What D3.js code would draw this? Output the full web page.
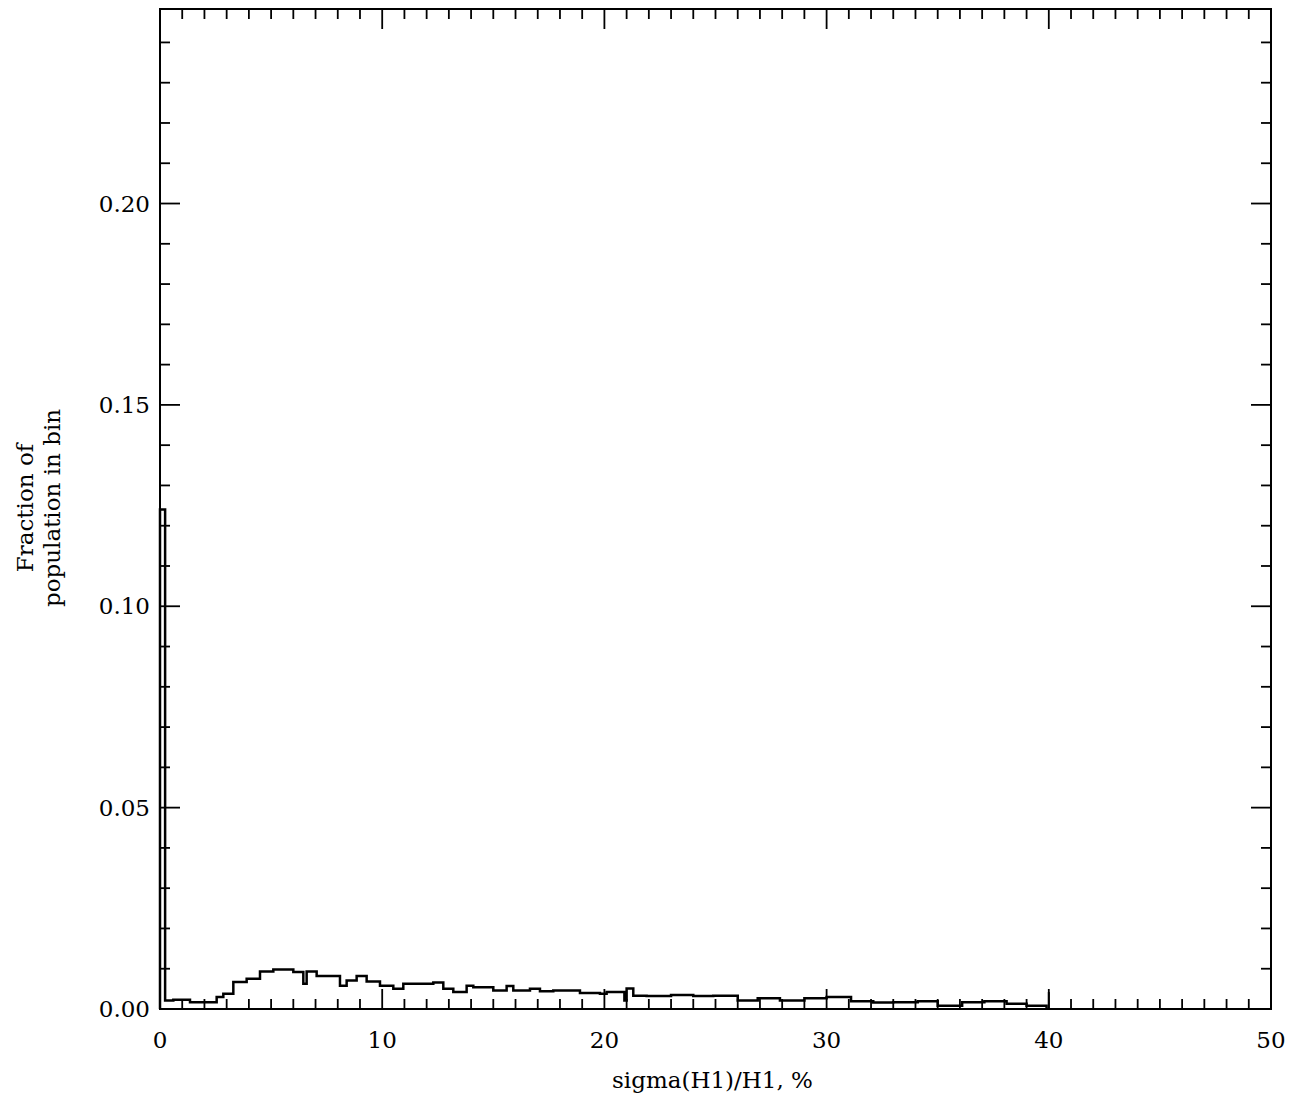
<!DOCTYPE html>
<html>
<head>
<meta charset="utf-8">
<script src="https://cdn.jsdelivr.net/npm/d3@7"></script>
<style>
  body { margin: 0; background: #fff; }
  text { font-family: "DejaVu Serif", serif; font-size: 23px; fill: #000; }
</style>
</head>
<body>
<script>
// histogram: start, end, value
let segStart = [0, 0.23, 0.6, 1.35, 2.55, 2.85, 3.3, 3.9, 4.5, 5.1, 6.0, 6.45, 6.6, 7.05, 8.1, 8.4, 8.85, 9.3, 9.9,
                10.5, 10.95, 12.3, 12.75, 13.2, 13.8, 14.1, 15.0, 15.6, 15.9, 16.65, 17.1, 17.7, 18.9,
                19.8, 20.1, 20.9, 21.0, 21.3, 21.9, 23.0, 24.0, 24.9, 26.0, 26.9, 27.9, 29.0, 30.0, 31.1,
                32.1, 33.0, 34.1, 35.0, 36.1, 37.1, 38.1, 39.0];
let segEnd = segStart.slice(1).concat([39.9]);
let segValue = [0.124, 0.0021, 0.0023, 0.0017, 0.0030, 0.0038, 0.0067, 0.0075, 0.0093, 0.0098, 0.0092, 0.0063, 0.0093, 0.0082, 0.0058, 0.0071, 0.0082, 0.0068, 0.0058,
                0.0050, 0.0063, 0.0066, 0.0050, 0.0042, 0.0058, 0.0054, 0.0046, 0.0057, 0.0046, 0.0050, 0.0044, 0.0046, 0.0040,
                0.0038, 0.0042, 0.0021, 0.0051, 0.0033, 0.0032, 0.0035, 0.0032, 0.0033, 0.0021, 0.0027, 0.0021, 0.0027, 0.0030, 0.0019,
                0.0016, 0.0017, 0.0019, 0.0008, 0.0017, 0.0019, 0.0013, 0.0008];

let xTicks = [0, 10, 20, 30, 40, 50];
let yTicks = [0, 0.05, 0.10, 0.15, 0.20];

let width = 1297, height = 1099;
let mLeft = 160, mRight = 1271, mTop = 9, mBottom = 1009;

let x = d3.scaleLinear().domain([0, 50]).range([mLeft, mRight]);
let y = d3.scaleLinear().domain([0, 0.2483]).range([mBottom, mTop]);

let svg = d3.select("body").append("svg")
            .attr("width", width)
            .attr("height", height);

svg.append("rect")
   .attr("x", mLeft).attr("y", mTop)
   .attr("width", mRight - mLeft).attr("height", mBottom - mTop)
   .attr("fill", "none").attr("stroke", "#000").attr("stroke-width", 2);

let tickG = svg.append("g").attr("stroke", "#000").attr("stroke-width", 1.8);
d3.range(0, 51, 1).forEach(function(v) {
  let len = (v % 10 == 0) ? 20 : 10;
  tickG.append("line").attr("x1", x(v)).attr("x2", x(v)).attr("y1", mBottom).attr("y2", mBottom - len);
  tickG.append("line").attr("x1", x(v)).attr("x2", x(v)).attr("y1", mTop).attr("y2", mTop + len);
});
d3.range(0, 25, 1).forEach(function(i) {
  let v = i * 0.01;
  let len = (i % 5 == 0) ? 20 : 10;
  tickG.append("line").attr("y1", y(v)).attr("y2", y(v)).attr("x1", mLeft).attr("x2", mLeft + len);
  tickG.append("line").attr("y1", y(v)).attr("y2", y(v)).attr("x1", mRight).attr("x2", mRight - len);
});

xTicks.forEach(function(v) {
  svg.append("text").attr("x", x(v)).attr("y", 1048)
     .attr("text-anchor", "middle").text(v);
});
yTicks.forEach(function(v) {
  svg.append("text").attr("x", 150).attr("y", y(v) + 8)
     .attr("text-anchor", "end").text(v.toFixed(2));
});

svg.append("text").attr("x", (mLeft + mRight) / 2 - 3).attr("y", 1088)
   .attr("text-anchor", "middle").text("sigma(H1)/H1, %");

svg.append("text").attr("transform", "translate(33,508) rotate(-90)")
   .attr("text-anchor", "middle").text("Fraction of");
svg.append("text").attr("transform", "translate(60,508) rotate(-90)")
   .attr("text-anchor", "middle").text("population in bin");

// build step path from segments
let pts = [[0, 0]];
for (let i = 0; i < segStart.length; i++) {
  pts.push([segStart[i], segValue[i]]);
  pts.push([segEnd[i], segValue[i]]);
}
pts.push([segEnd[segEnd.length - 1], 0]);

let line = d3.line().x(d => x(d[0])).y(d => y(d[1]));
svg.append("path").datum(pts)
   .attr("d", line)
   .attr("fill", "none").attr("stroke", "#000").attr("stroke-width", 2.5);

// closing edge at 40
svg.append("line").attr("x1", x(40)).attr("x2", x(40)).attr("y1", mBottom).attr("y2", y(0.0042))
   .attr("stroke", "#000").attr("stroke-width", 2);
</script>
</body>
</html>
